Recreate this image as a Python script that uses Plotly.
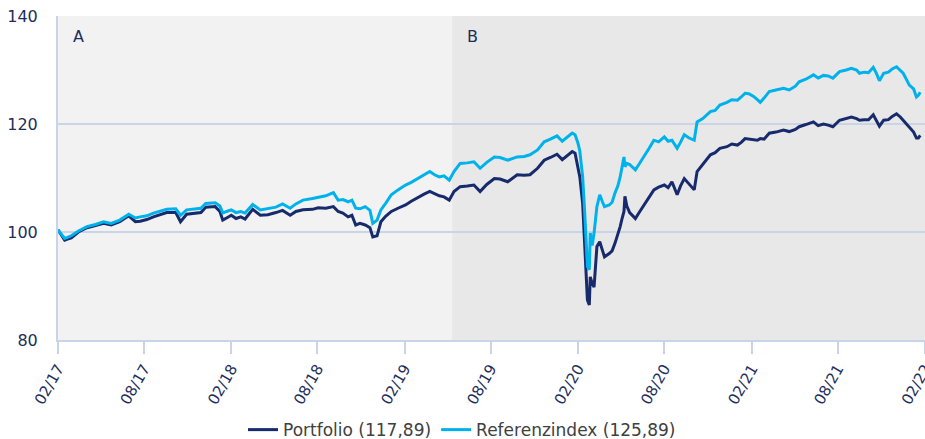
import plotly.graph_objects as go

dates = [
    "2017-02-01", "2017-02-09", "2017-02-15", "2017-02-21", "2017-03-01", "2017-03-16", "2017-04-03", "2017-04-21",
    "2017-05-08", "2017-05-24", "2017-06-11", "2017-06-30", "2017-07-14", "2017-07-24", "2017-08-07", "2017-08-21",
    "2017-09-06", "2017-09-18", "2017-10-07", "2017-10-17", "2017-10-30", "2017-11-14", "2017-11-29", "2017-12-09",
    "2017-12-19", "2017-12-29", "2018-01-08", "2018-01-14", "2018-01-22", "2018-02-01", "2018-02-11", "2018-02-21",
    "2018-03-02", "2018-03-18", "2018-04-03", "2018-04-19", "2018-05-06", "2018-05-20", "2018-06-05", "2018-06-17",
    "2018-07-02", "2018-07-22", "2018-08-03", "2018-08-19", "2018-09-04", "2018-09-14", "2018-09-24", "2018-10-05",
    "2018-10-13", "2018-10-21", "2018-10-30", "2018-11-10", "2018-11-20", "2018-11-26", "2018-12-05", "2018-12-13",
    "2018-12-23", "2019-01-04", "2019-01-18", "2019-02-03", "2019-02-15", "2019-02-28", "2019-03-14", "2019-03-26",
    "2019-04-05", "2019-04-15", "2019-04-25", "2019-05-06", "2019-05-16", "2019-05-29", "2019-06-13", "2019-06-27",
    "2019-07-10", "2019-07-24", "2019-08-09", "2019-08-21", "2019-09-06", "2019-09-16", "2019-09-26", "2019-10-11",
    "2019-10-23", "2019-11-08", "2019-11-22", "2019-12-05", "2019-12-19", "2019-12-30", "2020-01-10", "2020-01-20",
    "2020-01-26", "2020-02-01", "2020-02-05", "2020-02-11", "2020-02-15", "2020-02-19", "2020-02-21", "2020-02-25",
    "2020-02-27", "2020-03-02", "2020-03-06", "2020-03-12", "2020-03-18", "2020-03-24", "2020-03-28", "2020-04-07",
    "2020-04-13", "2020-04-19", "2020-04-25", "2020-04-30", "2020-05-04", "2020-05-08", "2020-05-10", "2020-05-14",
    "2020-05-20", "2020-06-01", "2020-06-09", "2020-06-19", "2020-06-30", "2020-07-10", "2020-07-20", "2020-08-01",
    "2020-08-09", "2020-08-17", "2020-08-28", "2020-09-04", "2020-09-12", "2020-09-22", "2020-10-03", "2020-10-09",
    "2020-10-21", "2020-11-06", "2020-11-16", "2020-11-26", "2020-12-11", "2020-12-21", "2021-01-02", "2021-01-10",
    "2021-01-18", "2021-01-26", "2021-02-05", "2021-02-13", "2021-02-19", "2021-02-27", "2021-03-10", "2021-03-24",
    "2021-04-09", "2021-04-21", "2021-05-04", "2021-05-12", "2021-05-26", "2021-06-11", "2021-06-21", "2021-07-02",
    "2021-07-12", "2021-07-22", "2021-08-05", "2021-08-19", "2021-08-30", "2021-09-10", "2021-09-16", "2021-09-26",
    "2021-10-05", "2021-10-15", "2021-10-21", "2021-10-28", "2021-11-06", "2021-11-16", "2021-11-24", "2021-12-03",
    "2021-12-11", "2021-12-17", "2021-12-23", "2021-12-30", "2022-01-08", "2022-01-14", "2022-01-18", "2022-01-22",
]

portfolio = [
    100.4, 99.3, 98.5, 98.7, 98.9, 100.0, 100.8, 101.2,
    101.6, 101.3, 101.9, 103.0, 101.9, 102.0, 102.3, 102.8,
    103.3, 103.6, 103.6, 101.9, 103.3, 103.5, 103.6, 104.6,
    104.6, 104.7, 103.8, 102.2, 102.6, 103.1, 102.5, 102.8,
    102.4, 104.2, 103.1, 103.2, 103.6, 104.0, 103.1, 103.8,
    104.1, 104.2, 104.5, 104.4, 104.7, 103.8, 103.5, 102.8,
    103.1, 101.3, 101.6, 101.3, 100.8, 99.1, 99.3, 101.9,
    102.9, 103.8, 104.4, 105.0, 105.7, 106.4, 107.0, 107.5,
    107.1, 106.7, 106.5, 105.9, 107.5, 108.4, 108.5, 108.7,
    107.5, 108.8, 109.9, 109.8, 109.3, 110.0, 110.6, 110.5,
    110.6, 111.8, 113.3, 113.8, 114.4, 113.4, 114.1, 114.9,
    114.6, 112.0, 110.2, 105.3, 97.9, 90.5, 87.4, 86.5,
    91.7, 90.5, 89.8, 97.3, 98.2, 96.5, 95.4, 96.0,
    96.5, 97.9, 99.5, 101.0, 102.5, 103.8, 106.6, 104.8,
    103.6, 102.5, 103.6, 105.0, 106.5, 107.8, 108.3, 108.7,
    108.2, 109.3, 106.9, 108.5, 109.9, 108.8, 107.8, 111.2,
    112.5, 114.3, 114.7, 115.5, 115.8, 116.3, 116.1, 116.6,
    117.3, 117.2, 117.1, 117.0, 117.3, 117.2, 118.3, 118.5,
    118.9, 118.6, 119.0, 119.5, 119.9, 120.4, 119.7, 120.0,
    119.8, 119.5, 120.7, 121.0, 121.3, 121.0, 120.7, 120.8,
    120.8, 121.7, 120.7, 119.6, 120.7, 120.8, 121.4, 121.9,
    121.3, 120.7, 120.0, 119.2, 118.5, 117.4, 117.4, 117.89,
]

referenzindex = [
    100.4, 99.5, 98.8, 99.0, 99.3, 100.2, 101.0, 101.4,
    101.9, 101.6, 102.2, 103.3, 102.6, 102.8, 103.0, 103.5,
    103.9, 104.2, 104.3, 103.1, 104.1, 104.3, 104.4, 105.3,
    105.3, 105.4, 104.8, 103.5, 103.8, 104.1, 103.6, 103.8,
    103.5, 105.1, 104.1, 104.3, 104.6, 105.2, 104.4, 105.2,
    105.9, 106.2, 106.4, 106.7, 107.3, 105.9, 106.0, 105.6,
    105.9, 104.4, 104.3, 104.7, 104.0, 101.6, 102.2, 104.1,
    105.3, 106.9, 107.8, 108.7, 109.2, 109.9, 110.6, 111.2,
    110.6, 110.2, 110.4, 109.6, 111.2, 112.7, 112.8, 113.0,
    111.8, 112.9, 113.9, 113.8, 113.3, 113.6, 113.9, 114.0,
    114.3, 115.2, 116.7, 117.2, 117.8, 116.8, 117.5, 118.3,
    118.0, 116.5, 115.0, 110.2, 104.1, 97.0, 93.6, 93.0,
    99.8, 97.5, 99.8, 104.7, 106.9, 105.5, 104.7, 105.0,
    105.5, 107.2, 108.5, 110.2, 112.0, 113.9, 112.1, 112.7,
    112.5, 111.5, 112.6, 113.9, 115.5, 117.0, 116.7, 117.6,
    116.8, 117.0, 115.5, 116.6, 118.0, 117.4, 117.0, 120.4,
    121.0, 122.3, 122.5, 123.5, 124.0, 124.5, 124.4, 125.0,
    125.7, 125.6, 125.1, 124.5, 124.0, 124.8, 126.0, 126.3,
    126.6, 126.3, 127.0, 127.8, 128.3, 129.1, 128.5, 129.0,
    128.9, 128.5, 129.7, 130.0, 130.3, 130.0, 129.4, 129.6,
    129.5, 130.5, 129.5, 128.0, 129.4, 129.6, 130.2, 130.6,
    130.0, 129.4, 128.4, 127.2, 126.5, 125.0, 125.3, 125.89,
]

series_names = ["Portfolio (117,89)", "Referenzindex (125,89)"]
series_colors = ["#172a6b", "#00b2eb"]

period_labels = ["A", "B"]
period_starts = ["2017-02-01", "2019-05-12"]
period_ends = ["2019-05-12", "2022-02-01"]
period_fills = ["#f2f2f2", "#e8e8e8"]

y_ticks = [80, 100, 120, 140]

FONT = "DejaVu Sans"
NAVY_TEXT = "#1d2d5c"
AXIS_COL = "#c9d5e6"

fig = go.Figure()
for name, vals, col in zip(series_names, [portfolio, referenzindex], series_colors):
    fig.add_trace(go.Scatter(x=dates, y=vals, mode="lines", name=name,
                             line=dict(color=col, width=3)))

for lab, s, e, fc in zip(period_labels, period_starts, period_ends, period_fills):
    fig.add_shape(type="rect", xref="x", yref="paper", x0=s, x1=e, y0=0, y1=1,
                  fillcolor=fc, line=dict(width=0), layer="below")
    fig.add_annotation(x=s, y=1, xref="x", yref="paper", text=lab, showarrow=False,
                       xanchor="left", yanchor="top", xshift=13, yshift=-9,
                       font=dict(family=FONT, size=16, color=NAVY_TEXT))

fig.update_layout(
    width=925, height=439,
    margin=dict(l=58, r=0, t=16, b=99, autoexpand=False),
    paper_bgcolor="white", plot_bgcolor="white",
    font=dict(family=FONT, size=16, color=NAVY_TEXT),
    showlegend=True,
    legend=dict(orientation="h", x=0.466, xanchor="center", y=-0.278, yanchor="middle",
                font=dict(family=FONT, size=17, color="#404040"), itemwidth=30),
)
fig.update_xaxes(
    type="date", range=["2017-02-01", "2022-02-01"], automargin=False,
    tick0="2017-02-01", dtick="M6", tickformat="%m/%y", tickangle=-60,
    ticks="outside", ticklen=12, tickwidth=2, tickcolor=AXIS_COL,
    showline=True, linecolor=AXIS_COL, linewidth=2, showgrid=False, zeroline=False,
    ticklabeloverflow="allow",
    tickfont=dict(family=FONT, size=15, color=NAVY_TEXT),
)
fig.update_yaxes(
    range=[80, 140], tickvals=y_ticks, ticks="", showline=True, linecolor=AXIS_COL, linewidth=2,
    showgrid=True, gridcolor=AXIS_COL, gridwidth=1.5, zeroline=False, automargin=False,
    ticklabelstandoff=15,
    tickfont=dict(family=FONT, size=16, color=NAVY_TEXT),
)

fig.write_html("out.html", config={"displayModeBar": False},
               post_script="document.body.style.margin='0';")
